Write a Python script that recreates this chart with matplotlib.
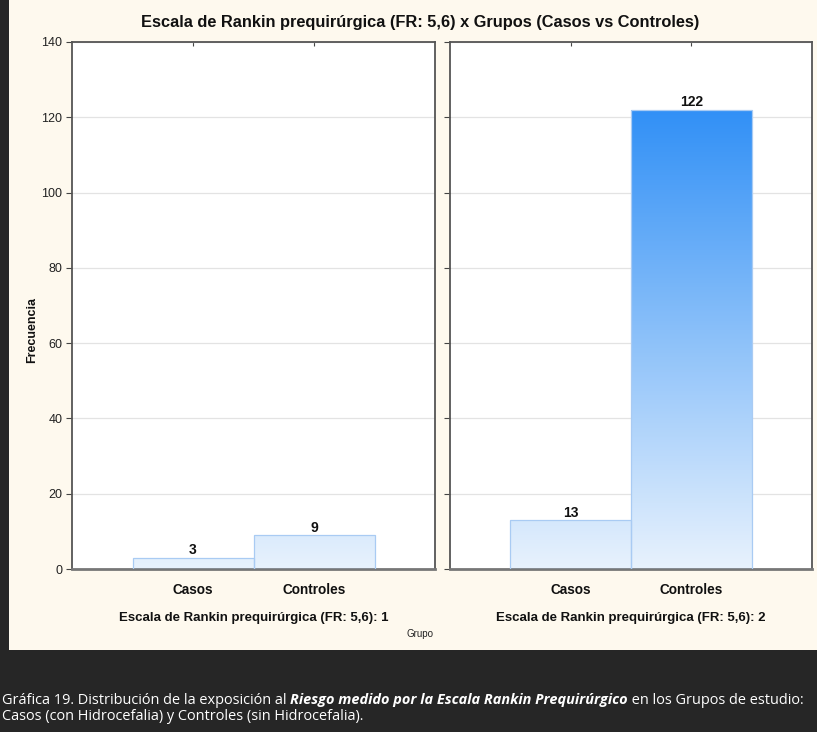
import matplotlib
matplotlib.use("Agg")
import matplotlib.pyplot as plt
import numpy as np
from matplotlib.colors import LinearSegmentedColormap
from matplotlib.patches import Rectangle

# Data
groups = ["Casos", "Controles"]
panel_levels = ["1", "2"]
counts = {
    "1": [3, 9],
    "2": [13, 122],
}
y_ticks = [0, 20, 40, 60, 80, 100, 120, 140]

title = "Escala de Rankin prequirúrgica (FR: 5,6) x Grupos (Casos vs Controles)"
panel_label = "Escala de Rankin prequirúrgica (FR: 5,6): {}"
caption_runs_1 = [
    ("Gráfica 19. Distribución de la exposición al ", "normal", "normal"),
    ("Riesgo medido por la Escala Rankin Prequirúrgico", "bold", "italic"),
    (" en los Grupos de estudio:", "normal", "normal"),
]
caption_line_2 = "Casos (con Hidrocefalia) y Controles (sin Hidrocefalia)."

W, H = 817, 732
DARK = "#262626"
CREAM = "#FEF9EE"
FONT = ["Liberation Sans", "DejaVu Sans"]
plt.rcParams["font.family"] = FONT

fig = plt.figure(figsize=(W / 100, H / 100), dpi=100, facecolor=DARK)

# cream panel behind the chart
fig.patches.append(Rectangle((9 / W, (H - 650) / H), 1 - 9 / W, 650 / H,
                             transform=fig.transFigure, facecolor=CREAM,
                             edgecolor="none", zorder=-10))

cmap = LinearSegmentedColormap.from_list("bluegrad", ["#E8F2FD", "#3190F6"])
vmax = max(max(v) for v in counts.values())

def px_axes(x0, x1, y_top, y_bot):
    return [x0 / W, (H - y_bot) / H, (x1 - x0) / W, (y_bot - y_top) / H]

ax_boxes = [px_axes(72, 435, 42, 569), px_axes(450, 812, 42, 569)]

for i, (lvl, box) in enumerate(zip(panel_levels, ax_boxes)):
    ax = fig.add_axes(box)
    ax.set_facecolor("white")
    xs = np.arange(1, len(groups) + 1)
    vals = counts[lvl]
    bars = ax.bar(xs, vals, width=1.0, facecolor="none",
                  edgecolor="#A9CBF3", linewidth=0.9, zorder=3)
    grad = np.linspace(0, vmax, 512).reshape(-1, 1)
    for b, v in zip(bars, vals):
        x0 = b.get_x()
        x1 = x0 + b.get_width()
        im = ax.imshow(grad, cmap=cmap, vmin=0, vmax=vmax, origin="lower",
                       extent=[x0, x1, 0, vmax], aspect="auto", zorder=2,
                       interpolation="bilinear")
        im.set_clip_path(b)
        ax.text(b.get_x() + b.get_width() / 2, v + 0.1, str(v),
                ha="center", va="bottom", fontsize=10, fontweight="bold",
                color="#111111", zorder=4)
    ax.set_xlim(0, 3)
    ax.set_ylim(0, 140)
    ax.set_yticks(y_ticks)
    ax.yaxis.grid(True, color="#E3E3E3", linewidth=0.9, zorder=0)
    ax.set_axisbelow(True)
    ax.set_xticks(xs)
    ax.set_xticklabels(groups, fontsize=9.8, fontweight="bold", color="#111111")
    ax.tick_params(axis="x", direction="in", length=3, width=0.8,
                   top=True, bottom=True, color="#444444", pad=10)
    ax.tick_params(axis="y", direction="out", length=4, width=0.8,
                   left=True, right=False, color="#444444",
                   labelsize=9, labelcolor="#222222", pad=3)
    if i == 1:
        ax.tick_params(axis="y", labelleft=False)
    for side in ["left", "top", "right"]:
        ax.spines[side].set_color("#555555")
        ax.spines[side].set_linewidth(1.3)
    ax.spines["bottom"].set_color("#777777")
    ax.spines["bottom"].set_linewidth(2.0)
    ax.set_xlabel(panel_label.format(lvl), fontsize=9.5, fontweight="bold",
                  color="#111111", labelpad=11)

fig.text(420 / W, 1 - 22 / H, title, ha="center", va="center",
         fontsize=11.8, fontweight="bold", color="#111111")
fig.text(32 / W, 1 - 330 / H, "Frecuencia", rotation=90, ha="center",
         va="center", fontsize=9, fontweight="bold", color="#111111")
fig.text(420 / W, 1 - 634 / H, "Grupo", ha="center", va="center",
         fontsize=7, color="#222222")

# caption below the chart, built from runs of differently styled text
CAP_FONT = ["Open Sans", "DejaVu Sans"]
cap_size = 10.45
fig.canvas.draw()
renderer = fig.canvas.get_renderer()
x = 1.5 / W
y1 = 1 - 700 / H
for txt, weight, style in caption_runs_1:
    t = fig.text(x, y1, txt, ha="left", va="center", fontsize=cap_size,
                 fontweight=weight, fontstyle=style, color="white",
                 family=CAP_FONT)
    bb = t.get_window_extent(renderer=renderer)
    x += bb.width / W
fig.text(1.5 / W, 1 - 717 / H, caption_line_2, ha="left", va="center",
         fontsize=cap_size, color="white", family=CAP_FONT)

fig.savefig("out.png", dpi=100, facecolor=DARK)
